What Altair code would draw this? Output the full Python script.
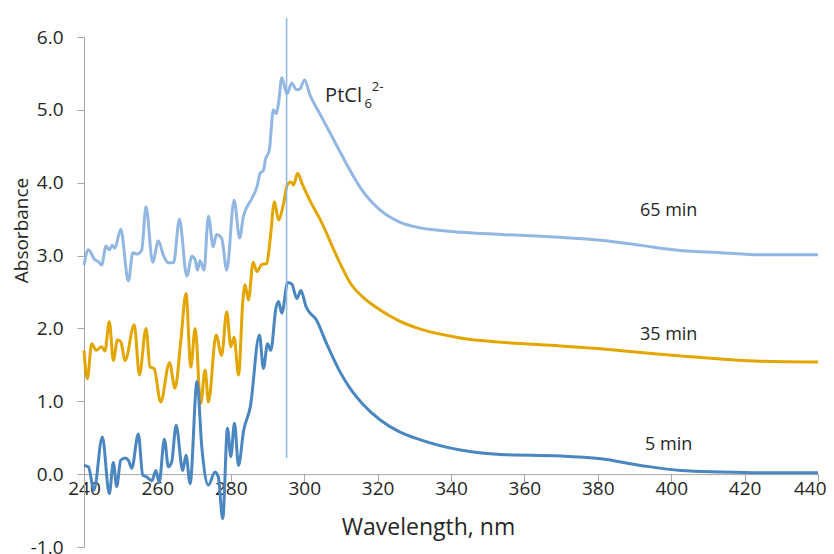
import altair as alt
import pandas as pd

# ---- data ----
nm65 = [240.0, 241.2, 243.0, 243.9, 244.8, 246.0, 246.9, 247.7, 248.4, 250.0,
        252.1, 253.3, 254.4, 255.7, 256.9, 258.7, 260.3, 261.6, 263.0, 264.4,
        266.0, 268.0, 269.4, 270.3, 270.9, 271.6, 272.7, 273.9, 275.2, 276.1,
        277.5, 278.9, 280.9, 282.4, 283.4, 285.7, 287.1, 288.0, 288.9, 289.4,
        290.5, 291.6, 292.4, 293.0, 293.9, 295.3, 296.6, 297.8, 298.7, 300.1,
        301.6, 304.0, 307.1, 309.8, 312.6, 316.0, 320.8, 326.0, 331.7, 336.0,
        342.6, 353.5, 369.9, 380.8, 391.7, 402.6, 413.5, 424.4, 440.0]
abs65 = [2.87, 3.08, 2.94, 2.92, 2.87, 3.13, 3.08, 3.14, 3.10, 3.36,
         2.65, 3.04, 3.02, 3.07, 3.67, 2.91, 3.20, 3.01, 2.90, 2.90,
         3.50, 2.72, 2.99, 2.94, 2.80, 2.93, 2.80, 3.54, 3.12, 3.29,
         3.24, 2.80, 3.76, 3.24, 3.53, 3.78, 3.94, 4.13, 4.17, 4.31,
         4.45, 5.00, 4.95, 5.09, 5.44, 5.22, 5.37, 5.28, 5.28, 5.41,
         5.20, 4.97, 4.68, 4.42, 4.16, 3.88, 3.62, 3.46, 3.38, 3.35,
         3.32, 3.29, 3.25, 3.21, 3.14, 3.07, 3.04, 3.01, 3.01]

nm35 = [240.0, 240.9, 242.1, 243.3, 244.8, 245.7, 246.9, 248.0, 249.1, 250.0,
        251.2, 253.7, 255.1, 256.9, 258.0, 259.1, 260.9, 263.3, 264.8, 266.4,
        267.8, 269.1, 270.3, 271.8, 273.0, 273.9, 276.0, 277.5, 278.9, 280.0,
        280.9, 282.1, 283.3, 283.9, 284.8, 286.1, 287.1, 288.5, 289.8, 290.7,
        291.9, 293.0, 294.2, 295.4, 296.4, 297.1, 298.2, 299.4, 301.5, 304.4,
        309.8, 312.6, 316.0, 320.8, 326.0, 331.7, 342.6, 353.5, 369.9, 380.8,
        391.7, 402.6, 413.5, 424.4, 440.0]
abs35 = [1.70, 1.31, 1.79, 1.70, 1.75, 1.69, 2.09, 1.56, 1.84, 1.82,
         1.56, 2.05, 1.36, 2.00, 1.47, 1.45, 0.99, 1.53, 1.18, 1.84,
         2.48, 1.47, 2.00, 0.97, 1.43, 0.99, 1.91, 1.63, 2.23, 1.75,
         1.88, 1.36, 2.39, 2.60, 2.39, 2.91, 2.78, 2.88, 2.89, 3.21,
         3.74, 3.49, 3.67, 3.97, 4.01, 3.97, 4.13, 3.99, 3.76, 3.49,
         2.89, 2.62, 2.43, 2.25, 2.10, 1.99, 1.87, 1.81, 1.76, 1.72,
         1.67, 1.62, 1.58, 1.55, 1.54]

nm5 = [240.0, 241.2, 242.7, 245.0, 246.9, 248.0, 248.9, 250.0, 251.2, 252.1,
       253.0, 254.8, 256.0, 257.1, 258.5, 259.6, 260.5, 261.9, 263.0, 263.9,
       265.1, 266.9, 267.8, 268.9, 270.8, 272.1, 273.9, 275.7, 276.6, 277.8,
       279.1, 280.0, 281.0, 282.1, 283.5, 285.3, 287.8, 288.9, 290.0, 290.9,
       292.3, 293.0, 293.9, 295.5, 296.6, 298.0, 299.1, 300.5, 301.6, 303.0,
       306.2, 309.8, 312.6, 316.0, 320.8, 326.0, 331.7, 342.6, 353.5, 369.9,
       380.8, 391.7, 402.6, 413.5, 424.4, 440.0]
abs5 = [0.12, 0.10, -0.22, 0.51, -0.27, 0.16, -0.17, 0.19, 0.22, 0.19,
        0.08, 0.55, -0.01, -0.04, -0.09, 0.05, -0.11, 0.48, 0.10, 0.17,
        0.67, 0.05, 0.26, -0.13, 1.27, 0.37, -0.15, 0.03, -0.04, -0.61,
        0.63, 0.24, 0.70, 0.12, 0.60, 0.92, 1.91, 1.45, 1.79, 1.70,
        2.28, 2.37, 2.21, 2.63, 2.61, 2.41, 2.52, 2.30, 2.21, 2.14,
        1.78, 1.40, 1.17, 0.96, 0.74, 0.58, 0.47, 0.33, 0.27, 0.25,
        0.21, 0.12, 0.05, 0.03, 0.02, 0.02]

series_names = ["65 min", "35 min", "5 min"]
series_colors = ["#93B7E3", "#E3A600", "#4A86BF"]

label_x = [399.3, 399.3, 399.3]
label_y = [3.61, 1.91, 0.40]

marker_nm = 295.2
marker_top = 6.26
marker_bottom = 0.22

pt_x = [305.7]
pt_y = [5.19]
sub_x = [316.4]
sub_y = [5.08]
sup_x = [318.4]
sup_y = [5.32]

FONT = "Open Sans"
TXT = "#262626"

# ---- tables ----
rows = []
for name, xs, ys in zip(series_names, [nm65, nm35, nm5], [abs65, abs35, abs5]):
    for i, (a, b) in enumerate(zip(xs, ys)):
        rows.append({"series": name, "nm": a, "abs": b, "i": i})
df = pd.DataFrame(rows)

lab = pd.DataFrame({"x": label_x, "y": label_y, "t": series_names})
mk = pd.DataFrame({"x": [marker_nm], "y": [marker_bottom], "y2": [marker_top]})

xscale = alt.Scale(domain=[240, 440], nice=False, zero=False)
yscale = alt.Scale(domain=[-1, 6], nice=False)

lines = alt.Chart(df).mark_line(strokeWidth=3, interpolate="monotone").encode(
    x=alt.X("nm:Q", scale=xscale,
            axis=alt.Axis(values=list(range(240, 441, 20)), title="Wavelength, nm",
                          offset=-72.86, grid=False, domainColor="#A6A6A6",
                          tickColor="#A6A6A6", tickSize=7, labelPadding=-2,
                          labelFlush=False, labelOverlap=False,
                          labelAlign={"condition": {"test": "datum.value >= 440", "value": "right"},
                                      "value": "center"},
                          labelOffset={"condition": {"test": "datum.value >= 440", "value": 8},
                                       "value": 0},
                          labelFont=FONT, labelFontSize=19, labelColor=TXT,
                          titleFont=FONT, titleFontSize=23, titleFontWeight="normal",
                          titleColor=TXT, titleX=344, titleY=53,
                          titleAnchor="start", titleAlign="center",
                          titleBaseline="middle")),
    y=alt.Y("abs:Q", scale=yscale,
            axis=alt.Axis(values=[-1, 0, 1, 2, 3, 4, 5, 6],
                          labelExpr="datum.value < 0 ? '-' + format(-datum.value, '.1f') : format(datum.value, '.1f')",
                          title="Absorbance", grid=False, domainColor="#A6A6A6",
                          tickColor="#A6A6A6", tickSize=7, labelPadding=14,
                          labelFlush=False, labelOverlap=False,
                          labelFont=FONT, labelFontSize=19, labelColor=TXT,
                          titleFont=FONT, titleFontSize=19, titleFontWeight="normal",
                          titleColor=TXT, titleX=-63, titleY=193,
                          titleAngle=-90, titleAnchor="start", titleAlign="center",
                          titleBaseline="middle")),
    color=alt.Color("series:N", scale=alt.Scale(domain=series_names, range=series_colors),
                    legend=None),
    order="i:Q",
)

rule = alt.Chart(mk).mark_rule(color="#8DB6E2", strokeWidth=1.5).encode(
    x=alt.X("x:Q", scale=xscale), y=alt.Y("y:Q", scale=yscale), y2="y2:Q")

labels = alt.Chart(lab).mark_text(font=FONT, fontSize=18, color=TXT,
                                  align="center", baseline="middle").encode(
    x=alt.X("x:Q", scale=xscale), y=alt.Y("y:Q", scale=yscale), text="t:N")

pt = alt.Chart(pd.DataFrame({"x": pt_x, "y": pt_y, "t": ["PtCl"]})).mark_text(
    font=FONT, fontSize=20, color=TXT, align="left", baseline="middle").encode(
    x=alt.X("x:Q", scale=xscale), y=alt.Y("y:Q", scale=yscale), text="t:N")
sub = alt.Chart(pd.DataFrame({"x": sub_x, "y": sub_y, "t": ["6"]})).mark_text(
    font=FONT, fontSize=13, color=TXT, align="left", baseline="middle").encode(
    x=alt.X("x:Q", scale=xscale), y=alt.Y("y:Q", scale=yscale), text="t:N")
sup = alt.Chart(pd.DataFrame({"x": sup_x, "y": sup_y, "t": ["2-"]})).mark_text(
    font=FONT, fontSize=13, color=TXT, align="left", baseline="middle").encode(
    x=alt.X("x:Q", scale=xscale), y=alt.Y("y:Q", scale=yscale), text="t:N")

chart = alt.layer(lines, rule, labels, pt, sub, sup).properties(
    width=734, height=510,
    autosize=alt.AutoSizeParams(type="none"),
    padding={"left": 76, "top": 29, "right": 8, "bottom": 8},
    background="white",
).configure_view(stroke=None)

chart.save("out.html", embed_options={"renderer": "svg", "actions": False})
